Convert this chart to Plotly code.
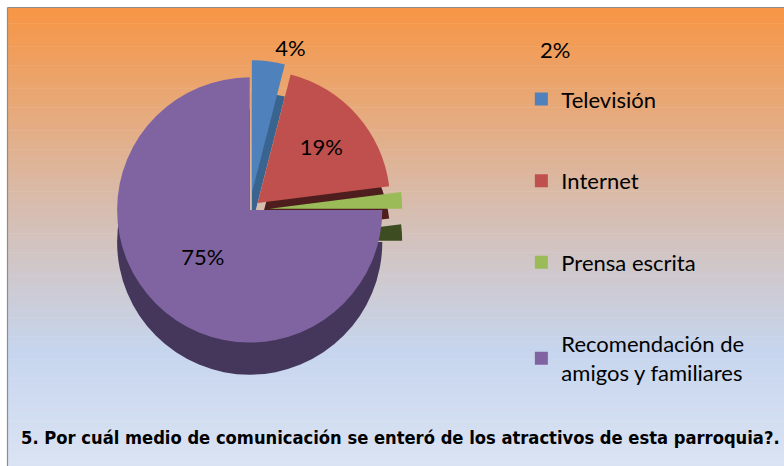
import plotly.graph_objects as go

# ---- data ----
categories = ["Televisión", "Internet", "Prensa escrita", "Recomendación de amigos y familiares"]
legend_labels = ["Televisión", "Internet", "Prensa escrita", "Recomendación de<br>amigos y familiares"]
values = [4, 19, 2, 75]
title_text = "5. Por cuál medio de comunicación se enteró de los atractivos de esta parroquia?."

# ---- style ----
colors = ["#4F81BD", "#C0504D", "#9BBB59", "#8064A2"]
side_colors = ["#3A6490", "#4E1E1E", "#3E4C22", "#45375C"]
pulls = [0.13, 0.08, 0.15, 0.0]
W, H = 784, 466

def lerp(c1, c2, t):
    return tuple(int(round(a + (b - a) * t)) for a, b in zip(c1, c2))

stops = [(0.0, (247, 150, 70)), (0.45, (214, 190, 178)), (0.75, (198, 213, 238)), (1.0, (218, 227, 243))]
shapes = []
n = 120
top_px, bot_px = 8, H
for i in range(n):
    t = i / (n - 1)
    for j in range(len(stops) - 1):
        if stops[j][0] <= t <= stops[j + 1][0]:
            tt = (t - stops[j][0]) / (stops[j + 1][0] - stops[j][0])
            c = lerp(stops[j][1], stops[j + 1][1], tt)
            break
    y0 = top_px + (bot_px - top_px) * i / n
    y1 = top_px + (bot_px - top_px) * (i + 1) / n + 0.6
    shapes.append(dict(type="rect", xref="paper", yref="paper", layer="below",
                       x0=8 / W, x1=1.0, y0=1 - y1 / H, y1=1 - y0 / H,
                       fillcolor="rgb(%d,%d,%d)" % c, line=dict(width=0)))
# frame border
shapes.append(dict(type="line", xref="paper", yref="paper", x0=7.5 / W, x1=7.5 / W, y0=0, y1=1 - 7.5 / H,
                   line=dict(color="#8C8C8C", width=1.2), layer="above"))
shapes.append(dict(type="line", xref="paper", yref="paper", x0=7.5 / W, x1=1, y0=1 - 7.5 / H, y1=1 - 7.5 / H,
                   line=dict(color="#8C8C8C", width=1.2), layer="above"))

fig = go.Figure()

dom_x = [0.124, 0.513]
dom_y = [0.222, 0.877]
depth = 0.069

# side / thickness (drawn behind)
fig.add_trace(go.Pie(
    labels=categories, values=values, sort=False, direction="clockwise", rotation=0,
    pull=pulls, marker=dict(colors=side_colors, line=dict(width=0)),
    textinfo="none", hoverinfo="skip", showlegend=False,
    domain=dict(x=dom_x, y=[dom_y[0] - depth, dom_y[1] - depth]),
))
# top face
texts = ["%d%%" % v for v in values]
texts[2] = ""
fig.add_trace(go.Pie(
    labels=categories, values=values, sort=False, direction="clockwise", rotation=0,
    pull=pulls, marker=dict(colors=colors, line=dict(width=0)),
    text=texts, textinfo="text",
    textposition=["outside", "inside", "none", "inside"],
    textfont=dict(family="Lato", size=22, color="black"),
    insidetextorientation="horizontal",
    showlegend=False,
    domain=dict(x=dom_x, y=dom_y),
))

# legend entries
for i, (lab, col) in enumerate(zip(legend_labels, colors)):
    fig.add_trace(go.Scatter(
        x=[None], y=[None], mode="markers", name=lab, legendgroup=str(i),
        marker=dict(symbol="square", size=13, color=col),
    ))

fig.update_layout(
    width=W, height=H, margin=dict(l=0, r=0, t=0, b=0, autoexpand=False),
    paper_bgcolor="white", plot_bgcolor="rgba(0,0,0,0)",
    shapes=shapes,
    xaxis=dict(visible=False), yaxis=dict(visible=False),
    legend=dict(x=0.665, y=0.832, xanchor="left", yanchor="top",
                font=dict(family="Lato", size=22, color="black"),
                tracegroupgap=50, bgcolor="rgba(0,0,0,0)", itemwidth=30),
    annotations=[
        dict(text="%d%%" % values[2], xref="paper", yref="paper", x=0.708, y=0.893,
             xanchor="center", yanchor="middle",
             showarrow=False, font=dict(family="Lato", size=22, color="black")),
        dict(text="<b>" + title_text + "</b>", xref="paper", yref="paper", x=0.511, y=1 - 437 / H,
             xanchor="center", yanchor="middle",
             showarrow=False, font=dict(family="DejaVu Sans Condensed", size=18.2, color="black")),
    ],
)

fig.write_html("out.html", config={"displayModeBar": False},
               post_script="document.body.style.margin='0';document.body.style.overflow='hidden';")
